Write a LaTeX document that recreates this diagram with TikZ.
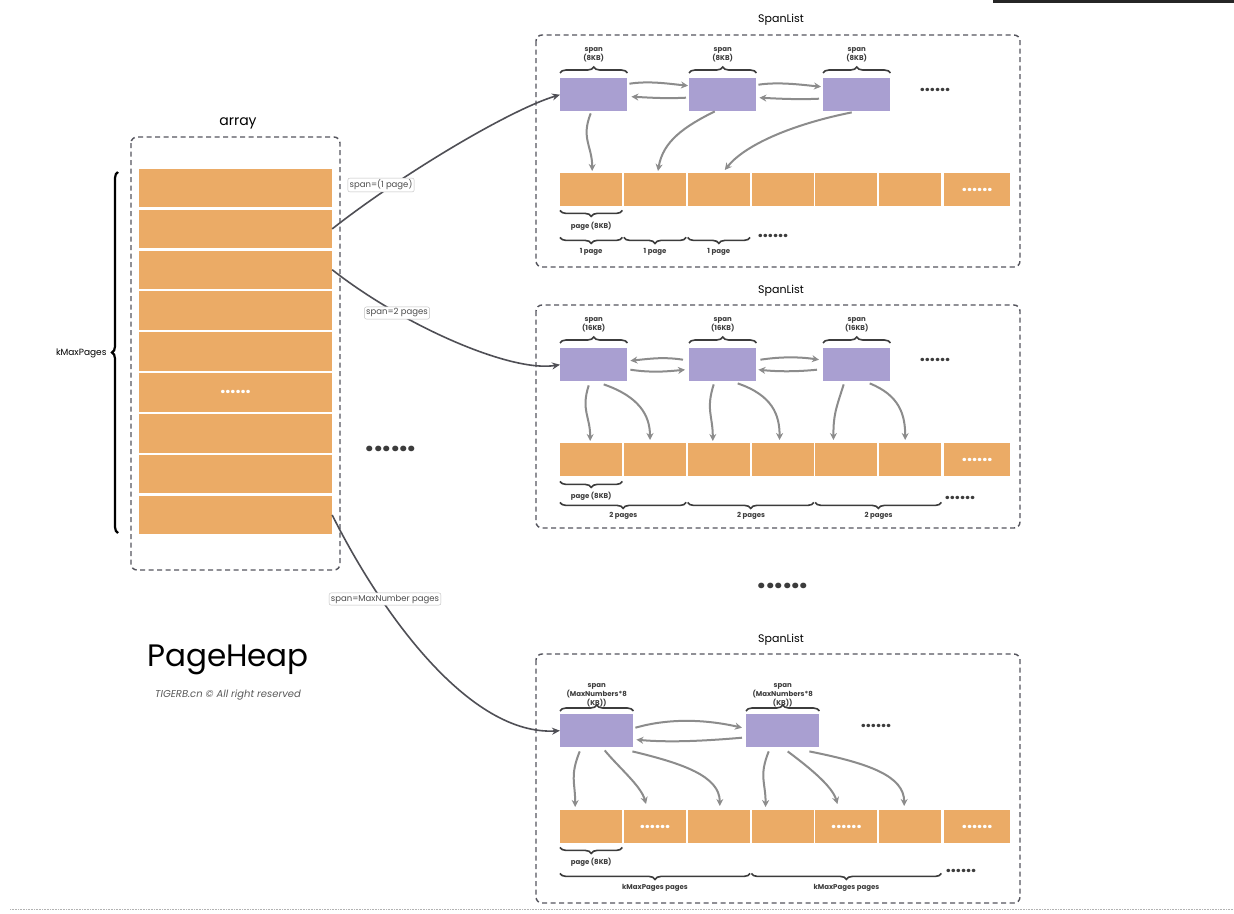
\documentclass[tikz,border=0pt]{standalone}
\usepackage{fontspec}
\setmainfont{Poppins}
\usepackage{xcolor}
\usetikzlibrary{positioning,calc,arrows.meta,decorations.pathreplacing}
\definecolor{pagefill}{HTML}{EBAB66}
\definecolor{spanfill}{HTML}{A99FD1}
\definecolor{linkgray}{HTML}{8C8C8C}
\definecolor{boxline}{HTML}{55555E}
\definecolor{textdark}{HTML}{3C3C3C}
\definecolor{flowline}{HTML}{4F4F55}

\tikzset{
  listbox/.style={draw=boxline,line width=1.4pt,dash pattern=on 5pt off 3.5pt,rounded corners=6pt},
  arraycell/.style={fill=pagefill,minimum width=193pt,minimum height=38.5pt,inner sep=0pt},
  pagecell/.style={fill=pagefill,minimum width=62pt,minimum height=33pt,inner sep=0pt,anchor=north west},
  spanbox/.style={fill=spanfill,minimum width=67pt,minimum height=33pt,inner sep=0pt,anchor=north west},
  link/.style={draw=linkgray,line width=2pt,-{Stealth[length=7pt,width=7pt]}},
  flow/.style={draw=flowline,line width=1.6pt,-{Stealth[length=8pt,width=7pt]}},
  flowlabel/.style={draw=black!25,fill=white,rounded corners=2pt,inner sep=1.8pt,font=\fontsize{8.5}{9}\selectfont,text=black!70},
  tinytext/.style={text=textdark,font=\fontsize{7}{9}\selectfont\bfseries,align=center},
  brc/.style={decorate,decoration={brace,amplitude=6pt},draw=textdark,line width=1.6pt},
  whitedots/.style={text=white,font=\fontsize{18}{18}\selectfont\bfseries},
  darkdots/.style={text=textdark,font=\fontsize{18}{18}\selectfont\bfseries},
}

\begin{document}
\begin{tikzpicture}[x=1pt,y=-1pt]
  % canvas
  \useasboundingbox (0,0) rectangle (1234,913);
  \fill[white] (0,0) rectangle (1234,913);
  \fill[black!85] (993,0) rectangle (1234,3);
  \draw[black!30,densely dotted,line width=0.6pt] (10,909) -- (1234,909);

  % array column
  \draw[listbox] (131,137) rectangle (340,570);
  \node[font=\fontsize{14}{16}\selectfont] (arraytitle) at (238,123) {array};
  \foreach \i in {1,...,9}
    \node[arraycell] (cell\i) at (235.5,{188+(\i-1)*40.875}) {};
  \node[whitedots] (celldots) at (cell6) {......};
  \draw[decorate,decoration={brace,amplitude=6pt},line width=2.2pt] (118,533) -- (118,172);
  \node[font=\fontsize{9}{10}\selectfont,anchor=east] (kmax) at (110,353) {kMaxPages};
  \node[text=textdark,font=\fontsize{30}{30}\selectfont\bfseries] (moredots) at (391,449) {......};

  % PageHeap title
  \node[font=\fontsize{31}{34}\selectfont] (title) at (228,660) {PageHeap};
  \node[font=\fontsize{10}{12}\selectfont\itshape,text=black!65] (credit) at (228,695) {TIGERB.cn © All right reserved};

  % SpanList 1 - one page spans
  \node[font=\fontsize{11}{13}\selectfont] (titleA) at (781,20) {SpanList};
  \draw[listbox] (536,35) rectangle (1020,267);
  \foreach \i/\x in {1/560,2/689,3/823} {
    \node[spanbox] (a\i) at (\x,78) {};
    \node[tinytext] at ($(a\i.north)+(0,-23.5)$) {span\\(8KB)};
    \draw[brc] ($(a\i.north west)+(0,-5)$) -- ($(a\i.north east)+(0,-5)$);
  }
  \node[darkdots] (adots) at (935,90) {......};
  \foreach \i in {1,...,6}
    \node[pagecell] (pa\i) at ({560+(\i-1)*63.8},173) {};
  \node[pagecell,whitedots,minimum width=66pt] (pa7) at (944,173) {......};
  \draw[brc] ($(pa1.south east)+(0,4)$) -- ($(pa1.south west)+(0,4)$);
  \node[tinytext] at ($(pa1.south)+(0,20)$) {page (8KB)};
  \foreach \i in {1,2,3} {
    \draw[brc] ($(pa\i.south east)+(0,31)$) -- ($(pa\i.south west)+(0,31)$);
    \node[tinytext] at ($(pa\i.south)+(0,46)$) {1 page};
  }
  \node[darkdots] (apagedots) at (773,236) {......};
  \draw[link] ($(a1.east)+(2,-11)$) .. controls +(20,-3) and +(-20,-2) .. ($(a2.west)+(-1,-9)$);
  \draw[link] ($(a2.west)+(-3,3)$) .. controls +(-20,1) and +(20,1) .. ($(a1.east)+(4,2)$);
  \draw[link] ($(a2.east)+(2,-10)$) .. controls +(20,-3) and +(-20,-2) .. ($(a3.west)+(-2,-8)$);
  \draw[link] ($(a3.west)+(-4,4)$) .. controls +(-20,1) and +(20,1) .. ($(a2.east)+(3,3)$);
  \draw[link] ($(a1.south)+(-3,2)$) .. controls +(-10,25) and +(0,-25) .. ($(pa1.north)+(1,-2)$);
  \draw[link] ($(a2.south)+(-8,0)$) .. controls +(-30,15) and +(5,-30) .. ($(pa2.north)+(3,-2)$);
  \draw[link] ($(a3.south)+(-5,1)$) .. controls +(-60,12) and +(20,-25) .. ($(pa3.north)+(6,-3)$);

  % SpanList 2 - two page spans
  \node[font=\fontsize{11}{13}\selectfont] (titleB) at (781,291) {SpanList};
  \draw[listbox] (536,305) rectangle (1020,528);
  \foreach \i/\x in {1/560,2/689,3/823} {
    \node[spanbox] (b\i) at (\x,348) {};
    \node[tinytext] at ($(b\i.north)+(0,-23.5)$) {span\\(16KB)};
    \draw[brc] ($(b\i.north west)+(0,-5)$) -- ($(b\i.north east)+(0,-5)$);
  }
  \node[darkdots] (bdots) at (935,360) {......};
  \foreach \i in {1,...,6}
    \node[pagecell] (pb\i) at ({560+(\i-1)*63.8},443) {};
  \node[pagecell,whitedots,minimum width=66pt] (pb7) at (944,443) {......};
  \draw[brc] ($(pb1.south east)+(0,5)$) -- ($(pb1.south west)+(0,5)$);
  \node[tinytext] at ($(pb1.south)+(0,20)$) {page (8KB)};
  \foreach \i/\j in {1/2,3/4,5/6} {
    \draw[brc] ($(pb\j.south east)+(0,26)$) -- ($(pb\i.south west)+(0,26)$);
    \node[tinytext] at ($(pb\i.south east)+(1,39)$) {2 pages};
  }
  \node[darkdots] (bpagedots) at (960,498) {......};
  \draw[link] ($(b2.west)+(-6,-5)$) .. controls +(-20,-3) and +(20,-2) .. ($(b1.east)+(3,-4)$);
  \draw[link] ($(b1.east)+(3,5)$) .. controls +(20,3) and +(-20,2) .. ($(b2.west)+(-4,5)$);
  \draw[link] ($(b2.east)+(4,-5)$) .. controls +(20,-3) and +(-20,-3) .. ($(b3.west)+(-4,-5)$);
  \draw[link] ($(b3.west)+(-6,5)$) .. controls +(-20,2) and +(20,2) .. ($(b2.east)+(2,5)$);
  \draw[link] ($(b1.south)+(-5,4)$) .. controls +(-8,25) and +(0,-25) .. ($(pb1.north)+(-1,-2)$);
  \draw[link] ($(b1.south)+(10,3)$) .. controls +(35,12) and +(0,-25) .. ($(pb2.north)+(-5,-3)$);
  \draw[link] ($(b2.south)+(-9,3)$) .. controls +(-8,25) and +(0,-25) .. ($(pb3.north)+(-6,-2)$);
  \draw[link] ($(b2.south)+(15,2)$) .. controls +(35,12) and +(0,-25) .. ($(pb4.north)+(-3,-3)$);
  \draw[link] ($(b3.south)+(-13,3)$) .. controls +(-8,25) and +(0,-25) .. ($(pb5.north)+(-13,-3)$);
  \draw[link] ($(b3.south)+(13,2)$) .. controls +(30,12) and +(0,-25) .. ($(pb6.north)+(-5,-3)$);

  \node[text=textdark,font=\fontsize{30}{30}\selectfont\bfseries] (listdots) at (783,586) {......};

  % SpanList 3 - kMaxPages spans
  \node[font=\fontsize{11}{13}\selectfont] (titleC) at (781,640) {SpanList};
  \draw[listbox] (536,654) rectangle (1020,903);
  \foreach \i/\x in {1/560,2/746} {
    \node[spanbox,minimum width=73pt] (c\i) at (\x,714) {};
    \node[tinytext] at ($(c\i.north)+(0,-19)$) {span\\(MaxNumbers*8\\(KB))};
    \draw[brc] ($(c\i.north west)+(0,-3)$) -- ($(c\i.north east)+(0,-3)$);
  }
  \node[darkdots] (cdots) at (876,726) {......};
  \foreach \i in {1,...,6}
    \node[pagecell] (pc\i) at ({560+(\i-1)*63.8},810) {};
  \node[pagecell,whitedots,minimum width=66pt] (pc7) at (944,810) {......};
  \node[whitedots] at (pc2) {......};
  \node[whitedots] at (pc5) {......};
  \draw[brc] ($(pc1.south east)+(0,4)$) -- ($(pc1.south west)+(0,4)$);
  \node[tinytext] at ($(pc1.south)+(0,19)$) {page (8KB)};
  \foreach \i/\j in {1/3,4/6} {
    \draw[brc] ($(pc\j.south east)+(0,30)$) -- ($(pc\i.south west)+(0,30)$);
    \node[tinytext] at ($(pc\i.south west)!0.5!(pc\j.south east)+(0,44)$) {kMaxPages pages};
  }
  \node[darkdots] (cpagedots) at (961,871) {......};
  \draw[link] ($(c1.east)+(2,-3)$) .. controls +(35,-10) and +(-35,-8) .. ($(c2.west)+(-4,-3)$);
  \draw[link] ($(c2.west)+(-4,7)$) .. controls +(-35,3) and +(35,3) .. ($(c1.east)+(3,9)$);
  \draw[link] ($(c1.south)+(-17,4)$) .. controls +(-10,25) and +(0,-25) .. ($(pc1.north)+(-16,-3)$);
  \draw[link] ($(c1.south)+(8,3)$) .. controls +(15,18) and +(-5,-18) .. ($(pc2.north)+(-9,-6)$);
  \draw[link] ($(c1.south east)+(-1,4)$) .. controls +(50,12) and +(0,-30) .. ($(pc3.north)+(1,-4)$);
  \draw[link] ($(c2.south)+(-14,4)$) .. controls +(-10,25) and +(0,-25) .. ($(pc4.north)+(-17,-3)$);
  \draw[link] ($(c2.south)+(5,4)$) .. controls +(20,15) and +(-5,-18) .. ($(pc5.north)+(-9,-6)$);
  \draw[link] ($(c2.south east)+(-10,4)$) .. controls +(60,12) and +(0,-30) .. ($(pc6.north)+(-6,-4)$);

  % array entries point to their span lists
  \draw[flow] (cell2.east) .. controls +(70,-55) and +(-50,15) .. (a1.west);
  \draw[flow] (cell3.east) .. controls +(70,55) and +(-50,8) .. (b1.west);
  \draw[flow] (cell9.east) .. controls +(50,100) and +(-90,5) .. (c1.west);
  \node[flowlabel] (oneLabel) at (381,185) {span=(1 page)};
  \node[flowlabel] (twoLabel) at (397,313) {span=2 pages};
  \node[flowlabel] (maxLabel) at (385,599) {span=MaxNumber pages};
\end{tikzpicture}
\end{document}
